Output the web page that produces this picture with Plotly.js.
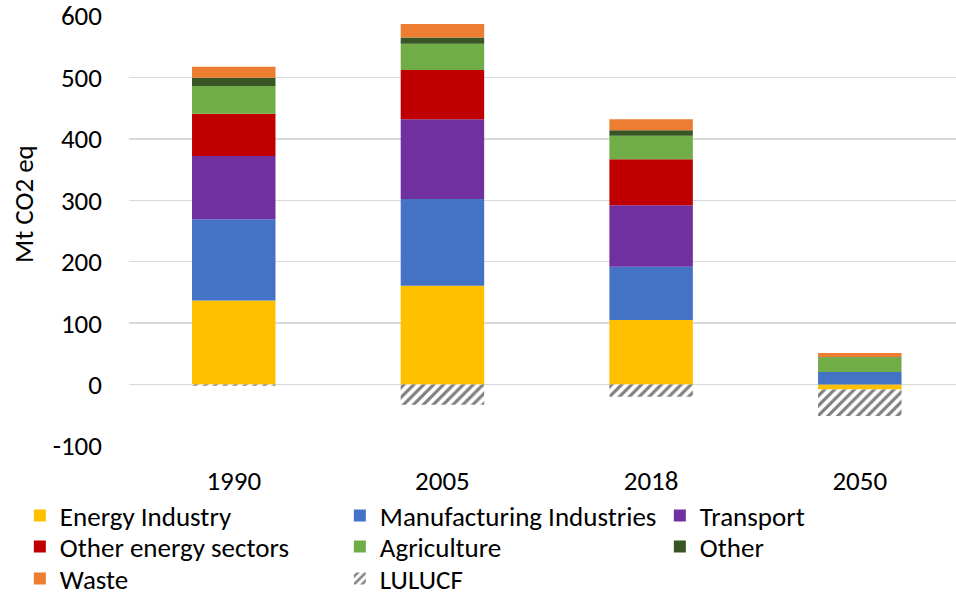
<!DOCTYPE html>
<html>
<head>
<meta charset="utf-8">
<script src="https://cdn.plot.ly/plotly-3.0.1.min.js"></script>
<style>html,body{margin:0;padding:0;background:#fff;}#chart{width:956px;height:596px;}</style>
</head>
<body>
<div id="chart"></div>
<script>
const years = ['1990', '2005', '2018', '2050'];
const energyIndustry = [137, 161, 105, -8];
const manufacturing = [132, 141, 87, 20.5];
const transport = [103, 130, 100, 0];
const otherEnergy = [69, 80, 75, 0];
const agriculture = [45, 43, 38, 24];
const other = [13.5, 10, 9, 0.5];
const waste = [18, 22, 18, 6.5];
const lulucf = [-2, -33, -20, -43];
const yTickVals = [-100, 0, 100, 200, 300, 400, 500, 600];
const yTickText = ['-100', '0', '100', '200', '300', '400', '500', '600'];

const FONT = 'Carlito, Calibri, "Open Sans", sans-serif';
const FS = 27;

function bar(name, y, color, legend, extra) {
  const t = {type: 'bar', name: name, x: years, y: y, legend: legend,
    marker: {color: color, line: {width: 0}}, hoverinfo: 'name+y'};
  if (extra) Object.assign(t.marker, extra);
  return t;
}

const data = [
  bar('Energy Industry', energyIndustry, '#FFC000', 'legend'),
  bar('Manufacturing Industries', manufacturing, '#4472C4', 'legend'),
  bar('Transport', transport, '#7030A0', 'legend'),
  bar('Other energy sectors', otherEnergy, '#C00000', 'legend2'),
  bar('Agriculture', agriculture, '#70AD47', 'legend2'),
  bar('Other', other, '#375623', 'legend2'),
  bar('Waste', waste, '#ED7D31', 'legend3'),
  bar('LULUCF', lulucf, '#ffffff', 'legend3',
      {pattern: {shape: '/', fgcolor: '#808080', bgcolor: '#ffffff', size: 7, solidity: 0.45}})
];

const legendBase = {orientation: 'h', yanchor: 'middle', xanchor: 'left', x: -0.132,
  entrywidth: 275, entrywidthmode: 'pixels',
  font: {family: FONT, size: FS, color: '#000'}, bgcolor: 'rgba(0,0,0,0)', traceorder: 'normal',
  itemclick: false, itemdoubleclick: false};

const layout = {
  width: 956, height: 596,
  margin: {l: 129, r: 0, t: 16, b: 150, autoexpand: false},
  paper_bgcolor: '#fff', plot_bgcolor: '#fff',
  barmode: 'relative', bargap: 0.6,
  font: {family: FONT, size: FS, color: '#000'},
  xaxis: {type: 'category', range: [-0.502, 3.461], showgrid: false, zeroline: false,
    showline: false, ticks: '', tickfont: {family: FONT, size: FS, color: '#000'}, ticklabelstandoff: 16},
  yaxis: {range: [-100, 600], tickmode: 'array', tickvals: yTickVals, ticktext: yTickText,
    ticklabeloverflow: 'allow',
    showgrid: true, gridcolor: '#d9d9d9', gridwidth: 1.5,
    zeroline: true, zerolinecolor: '#d9d9d9', zerolinewidth: 1.5, showline: false, ticks: '',
    tickfont: {family: FONT, size: FS, color: '#000'}, ticklabelstandoff: 26},
  showlegend: true,
  legend: Object.assign({}, legendBase, {y: -0.1628}),
  legend2: Object.assign({}, legendBase, {y: -0.2349}),
  legend3: Object.assign({}, legendBase, {y: -0.3093}),
  annotations: [{text: 'Mt CO2 eq', xref: 'paper', yref: 'paper', x: -0.127, y: 0.563,
    xanchor: 'center', yanchor: 'middle', textangle: -90, showarrow: false,
    font: {family: FONT, size: FS, color: '#000'}}]
};

Plotly.newPlot('chart', data, layout, {displayModeBar: false, staticPlot: true});
</script>
</body>
</html>
